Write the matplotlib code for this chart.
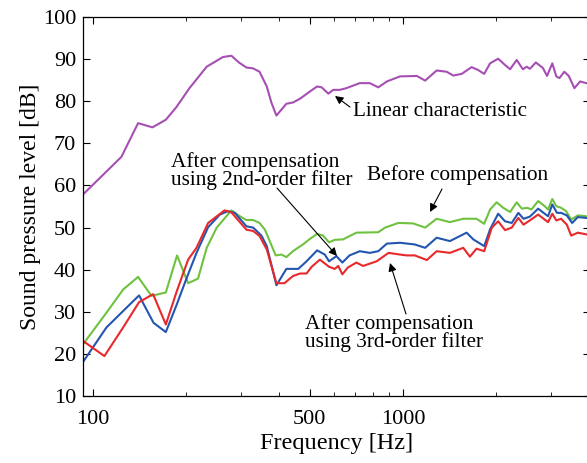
import numpy as np
import matplotlib
matplotlib.use("Agg")
import matplotlib.pyplot as plt
from matplotlib.ticker import FixedLocator, NullFormatter

plt.rcParams['font.family'] = ['Liberation Serif', 'DejaVu Serif']

# ---- data (frequency in Hz, level in dB) ----
linear_f = [92.8, 123.7, 140, 155.7, 172, 186, 205, 233, 263, 280, 296, 313, 329, 345,
            364, 377, 391, 421, 442, 466, 501, 529, 547, 575, 596, 626, 657, 726, 782,
            833, 888, 979, 1109, 1180, 1285, 1384, 1454, 1548, 1666, 1749, 1829, 1911,
            2029, 2135, 2217, 2328, 2437, 2508, 2567, 2684, 2828, 2917, 3033, 3124,
            3198, 3315, 3427, 3573, 3728, 3899]
linear_db = [57.8, 66.8, 74.8, 73.8, 75.6, 78.6, 83.1, 88.2, 90.5, 90.8, 89.2, 88.0, 87.8,
             87.0, 83.5, 79.6, 76.6, 79.4, 79.7, 80.6, 82.3, 83.5, 83.3, 81.8, 82.7, 82.7,
             83.1, 84.3, 84.3, 83.3, 84.7, 85.9, 86.0, 84.9, 87.3, 87.0, 86.1, 86.5, 88.1,
             87.4, 86.5, 89.0, 90.1, 88.6, 87.6, 89.8, 87.6, 88.2, 87.7, 89.2, 87.9, 86.0,
             89.0, 85.9, 85.5, 87.0, 86.0, 83.1, 84.7, 84.3]

before_f = [93, 110.7, 125.3, 140, 154.6, 172, 187, 203, 218.5, 233, 251, 280, 298, 313,
            329, 345, 359, 389, 406, 421, 442, 476, 501, 529, 553, 578, 603, 641, 708,
            833, 876, 966, 1078, 1180, 1285, 1418, 1566, 1728, 1829, 1911, 2006, 2107,
            2217, 2328, 2419, 2520, 2597, 2730, 2866, 2939, 3033, 3124, 3238, 3361, 3489,
            3665, 3899]
before_db = [22.3, 29.8, 35.3, 38.3, 33.8, 34.6, 43.4, 36.8, 37.9, 45.2, 50.0, 54.1, 52.7,
             51.8, 51.8, 51.1, 49.5, 43.4, 43.6, 43.0, 44.4, 46.0, 47.3, 48.5, 48.1, 46.5,
             47.1, 47.2, 48.8, 48.9, 50.0, 51.1, 51.0, 50.0, 52.1, 51.3, 52.1, 52.1, 50.9,
             54.3, 56.0, 54.7, 53.7, 56.0, 54.5, 54.7, 54.3, 56.3, 55.1, 54.3, 56.8, 55.1,
             54.7, 53.9, 51.9, 52.9, 52.7]

second_f = [93, 110.7, 125.3, 141, 157, 172, 186, 200, 216, 235.5, 257, 273, 287, 313, 329,
            350, 364, 391, 421, 460, 489, 529, 560, 578, 599, 611, 638, 673, 726, 782, 833,
            888, 979, 1092, 1180, 1285, 1418, 1605, 1687, 1829, 1911, 2029, 2135, 2244,
            2357, 2448, 2567, 2730, 2866, 2939, 3033, 3139, 3238, 3378, 3514, 3665, 3899]
second_db = [18.1, 26.3, 30.2, 33.9, 27.4, 25.2, 31.5, 37.7, 44.0, 50.1, 53.1, 53.9, 53.5,
             50.3, 50.0, 48.1, 45.6, 36.3, 40.2, 40.2, 42.0, 44.6, 43.6, 42.0, 42.8, 43.2,
             41.7, 43.4, 44.4, 44.0, 44.4, 46.2, 46.4, 46.0, 45.2, 47.6, 46.8, 48.8, 47.2,
             45.6, 49.6, 53.3, 51.5, 51.1, 53.5, 52.1, 52.6, 54.5, 53.3, 52.7, 55.5, 53.5,
             53.5, 52.9, 51.1, 52.5, 52.3]

third_f = [93, 109, 125.3, 141, 156.5, 172, 186, 203, 216, 235.5, 266, 280, 313, 329, 345,
           364, 391, 415, 442, 466, 489, 508, 540, 578, 603, 619, 638, 664, 708, 744, 823,
           899, 979, 1027, 1092, 1195, 1285, 1418, 1566, 1645, 1728, 1829, 1936, 2029,
           2135, 2244, 2357, 2448, 2567, 2730, 2866, 2939, 3033, 3124, 3238, 3378, 3489,
           3665, 3899]
third_db = [23.1, 19.5, 26.3, 32.3, 34.2, 27.0, 34.6, 42.4, 45.2, 51.1, 54.1, 53.6, 49.5,
            49.2, 48.0, 44.8, 36.8, 36.8, 38.5, 39.1, 39.1, 40.7, 42.4, 40.7, 40.2, 40.9,
            38.9, 40.5, 41.7, 40.9, 42.0, 44.0, 43.6, 43.4, 43.4, 42.3, 44.4, 44.0, 45.2,
            43.1, 45.0, 44.4, 50.0, 51.5, 49.4, 50.0, 52.3, 50.7, 51.7, 53.1, 51.9, 51.3,
            53.3, 51.7, 52.1, 50.7, 48.1, 48.8, 48.4]

H = 463  # figure height in px, text boxes are placed in figure pixels (y from top)

fig = plt.figure(figsize=(5.87, 4.63), dpi=100)
ax = fig.add_axes([0.1414, 0.1445, 0.8630, 0.8188])

ax.plot(linear_f, linear_db, color='#a64fb3', lw=1.5)
ax.plot(before_f, before_db, color='#6ec23f', lw=1.5)
ax.plot(second_f, second_db, color='#2456b0', lw=1.5)
ax.plot(third_f, third_db, color='#e8292b', lw=1.5)

ax.set_xscale('log')
ax.set_xlim(93, 4000)
ax.set_ylim(10, 100)
ax.xaxis.set_major_locator(FixedLocator([100, 500, 1000]))
ax.xaxis.set_minor_locator(FixedLocator([200, 300, 400, 600, 700, 800, 900, 2000, 3000]))
ax.xaxis.set_minor_formatter(NullFormatter())
ax.set_xticklabels(['100', '500', '1000'])
ax.set_yticks(np.arange(10, 101, 10))
ax.tick_params(which='both', direction='in', top=True, right=True, labelsize=16)
ax.tick_params(axis='x', pad=10)
ax.tick_params(axis='y', pad=5)
ax.tick_params(which='major', length=5)
ax.tick_params(which='minor', length=3)
for s in ax.spines.values():
    s.set_linewidth(0.9)

ax.set_xlabel('Frequency [Hz]', fontsize=17.5, labelpad=3)
ax.set_ylabel('Sound pressure level [dB]', fontsize=17, labelpad=1)

fs = 15.3
arrow = dict(arrowstyle='-|>', color='black', lw=0.8, mutation_scale=12, shrinkA=0, shrinkB=0)


def note(x, y, s):
    fig.text(x / 587, 1 - y / H, s, fontsize=fs, va='center', ha='left', linespacing=0.9)


def pointer(x0, y0, x1, y1):
    ax.annotate('', xy=(x1, H - y1), xycoords='figure pixels',
                xytext=(x0, H - y0), textcoords='figure pixels', arrowprops=arrow)


note(353, 111, 'Linear characteristic')
pointer(350, 107, 335, 96)
note(171, 171, 'After compensation\nusing 2nd-order filter')
pointer(277, 188, 337, 256)
note(367, 175, 'Before compensation')
pointer(442, 189, 430, 212)
note(305, 333, 'After compensation\nusing 3rd-order filter')
pointer(406, 314, 390, 263)

fig.savefig('out.png', dpi=100)
